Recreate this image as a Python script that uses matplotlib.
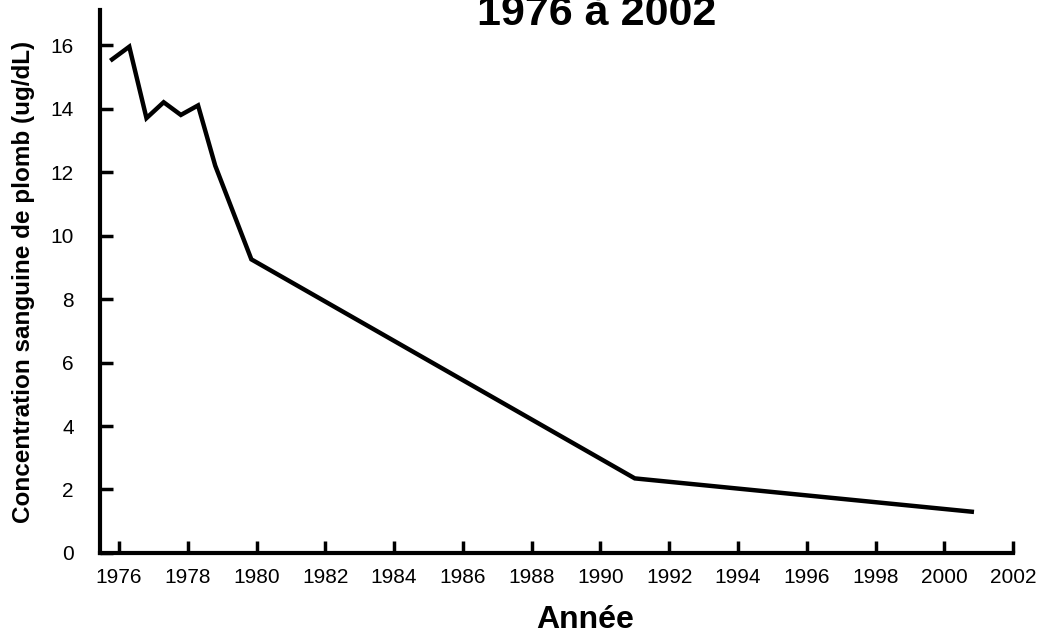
import matplotlib
matplotlib.use("Agg")
import matplotlib.pyplot as plt

plt.rcParams['font.family'] = ['Liberation Sans', 'DejaVu Sans']

# valeurs
years = [1975.8, 1976.3, 1976.8, 1977.3, 1977.8, 1978.3, 1978.8, 1979.85, 1991.0, 2000.8]
lead = [15.55, 15.95, 13.7, 14.2, 13.8, 14.1, 12.2, 9.25, 2.35, 1.3]
xticks = list(range(1976, 2003, 2))
yticks = list(range(0, 17, 2))

fig = plt.figure(figsize=(10.4, 6.37), dpi=100)
ax = fig.add_axes([0.0962, 0.1319, 0.8779, 0.8521])

ax.plot(years, lead, color='black', linewidth=3.2, solid_joinstyle='miter')

ax.set_xlim(1975.45, 2002)
ax.set_ylim(0, 17.1)
ax.set_xticks(xticks)
ax.set_yticks(yticks)
ax.tick_params(direction='in', length=9, width=2.5, labelsize=15)
ax.tick_params(axis='y', pad=19)
ax.tick_params(axis='x', pad=11)

for side in ['top', 'right']:
    ax.spines[side].set_visible(False)
for side in ['left', 'bottom']:
    ax.spines[side].set_linewidth(3)

ax.set_xlabel("Année", fontsize=23, fontweight='bold', labelpad=13, x=0.531)
ax.set_ylabel("Concentration sanguine de plomb (ug/dL)", fontsize=17.5,
              fontweight='bold', labelpad=11)

fig.text(597 / 1040, (637 - 25) / 637, "1976 à 2002", fontsize=31,
         fontweight='bold', ha='center', va='baseline')

fig.savefig("out.png", dpi=100)
